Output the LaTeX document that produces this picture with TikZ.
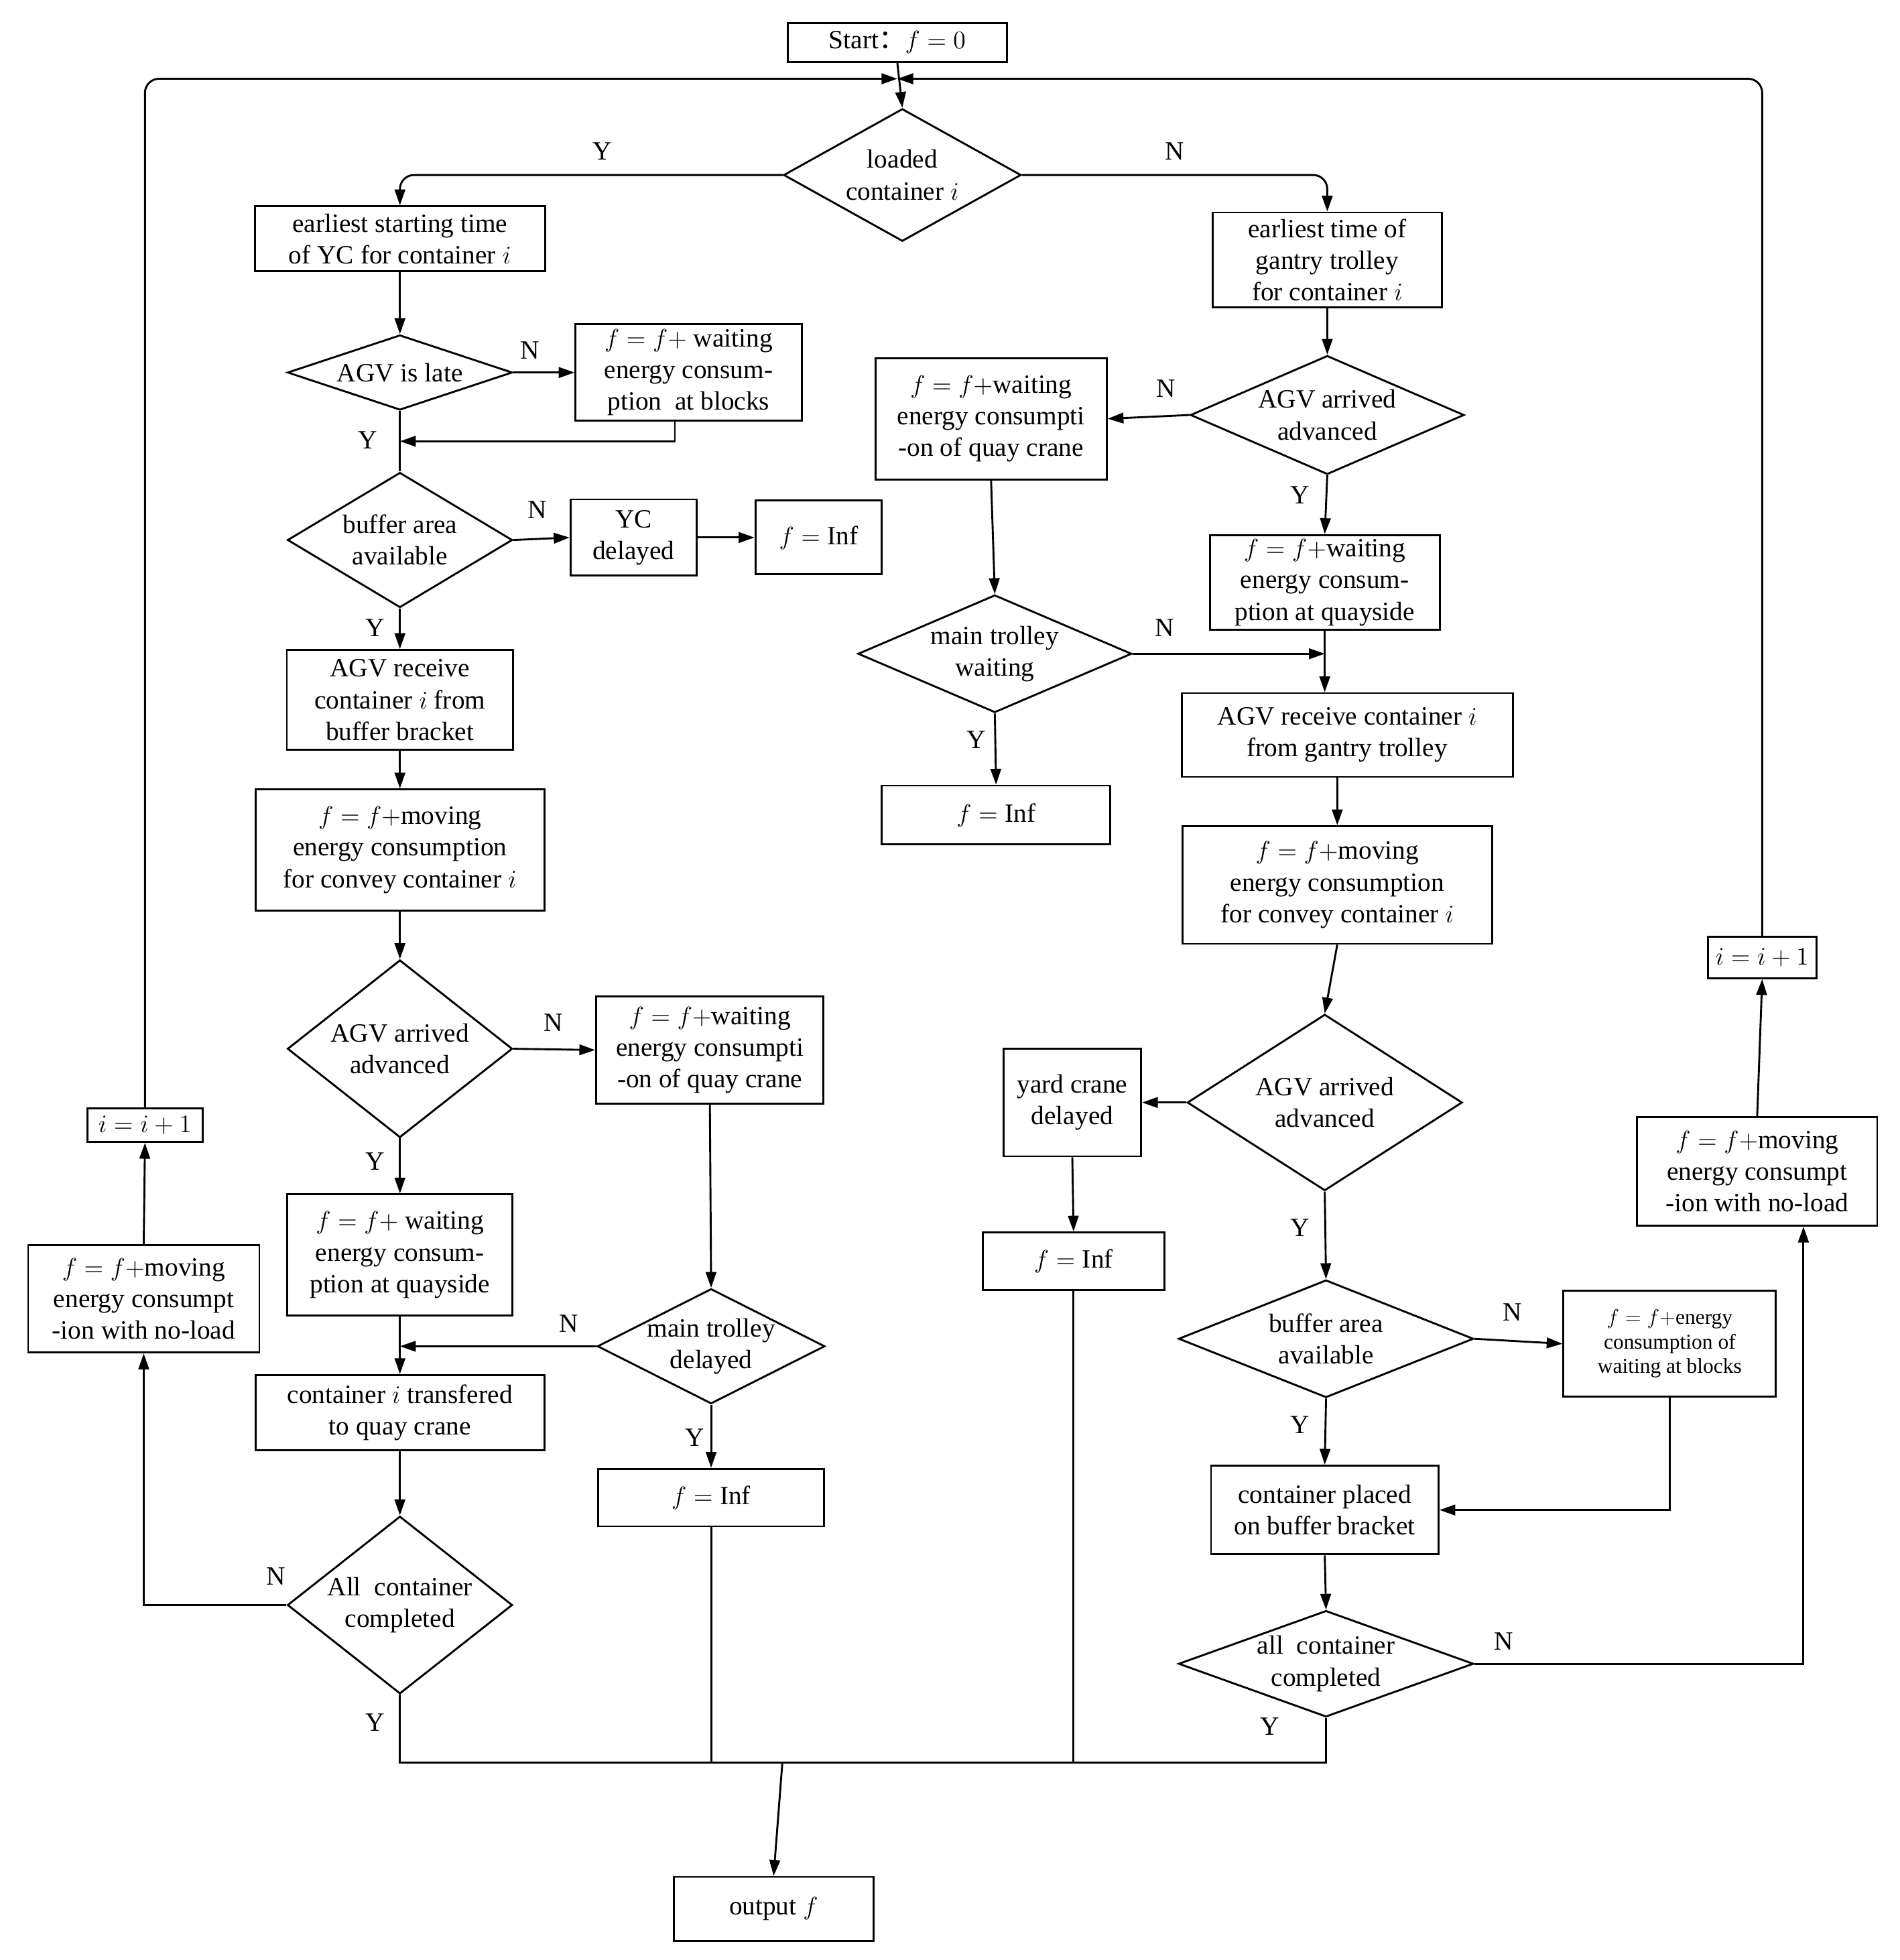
\documentclass[tikz,border=0pt]{standalone}
\usepackage{fontspec}
\setmainfont{Liberation Serif}
\newfontfamily\cjk{Noto Sans CJK SC}
\usetikzlibrary{shapes.geometric,calc,arrows.meta}
\begin{document}
\begin{tikzpicture}[x=0.025cm,y=-0.025cm,
  every node/.style={font=\fontsize{15}{18}\selectfont},
  box/.style={draw,line width=1.1pt,inner sep=2pt,align=center},
  dia/.style={draw,diamond,line width=1.1pt,inner sep=0pt},
  lab/.style={font=\fontsize{15}{18}\selectfont},
  arr/.style={line width=1.1pt,-{Triangle[length=9pt,width=6pt]}},
  ln/.style={line width=1.1pt}]
\newcommand\bx[6]{\node[box,minimum width=#4*0.025cm,minimum height=#5*0.025cm] (#1) at (#2,#3) {#6};}
\newcommand\dm[6]{\node[dia,minimum width=#4*0.025cm,minimum height=#5*0.025cm] (#1) at (#2,#3) {};\node[align=center] at (#2,#3) {#6};}
\useasboundingbox (0,0) rectangle (1520,1568);
% left column
\bx{start}{718}{34}{175}{31}{Start{\cjk ：}$f=0$}
\coordinate (merge) at (718,63);
\dm{d1}{722}{140}{190}{106}{loaded\\container $i$}
\bx{b1}{320}{191}{232}{52}{earliest starting time\\of YC for container $i$}
\dm{d2}{320}{298}{180}{60}{AGV is late}
\bx{b2}{551}{298}{181}{77}{$f=f+$ waiting\\energy consum-\\ption \ at blocks}
\dm{d3}{320}{432}{180}{108}{buffer area\\available}
\bx{b3}{507}{430}{101}{61}{YC\\delayed}
\bx{b4}{655}{430}{101}{59}{$f=\mathrm{Inf}$}
\bx{b5}{320}{560}{181}{80}{AGV receive\\container $i$ from\\buffer bracket}
\bx{b6}{320}{680}{231}{97}{$f=f+$moving\\energy consumption\\for convey container $i$}
\dm{d4}{320}{839}{180}{142}{AGV arrived\\advanced}
\bx{b7}{568}{840}{182}{86}{$f=f+$waiting\\energy consumpti\\-on of quay crane}
\bx{b8}{320}{1004}{180}{97}{$f=f+$ waiting\\energy consum-\\ption at quayside}
\dm{d5}{569}{1077}{182}{92}{main trolley\\delayed}
\bx{b9}{320}{1130}{231}{60}{container $i$ transfered\\to quay crane}
\bx{b10}{569}{1198}{181}{46}{$f=\mathrm{Inf}$}
\dm{d6}{320}{1284}{180}{142}{All \ container\\completed}
\bx{b11}{115}{1039}{185}{86}{$f=f+$moving\\energy consumpt\\-ion with no-load}
\bx{b12}{116}{900}{92}{27}{$i=i+1$}
\bx{out}{619}{1527}{160}{51}{output $f$}
% right column
\bx{b13}{1062}{208}{183}{76}{earliest time of\\gantry trolley\\for container $i$}
\dm{d7}{1062}{332}{219}{95}{AGV arrived\\advanced}
\bx{b14}{793}{335}{185}{97}{$f=f+$waiting\\energy consumpti\\-on of quay crane}
\bx{b15}{1060}{466}{184}{76}{$f=f+$waiting\\energy consum-\\ption at quayside}
\dm{d8}{796}{523}{219}{94}{main trolley\\waiting}
\bx{b16}{1078}{588}{265}{67}{AGV receive container $i$\\from gantry trolley}
\bx{b17}{797}{652}{183}{47}{$f=\mathrm{Inf}$}
\bx{b18}{1070}{708}{248}{94}{$f=f+$moving\\energy consumption\\for convey container $i$}
\dm{d9}{1060}{882}{220}{141}{AGV arrived\\advanced}
\bx{b19}{858}{882}{110}{86}{yard crane\\delayed}
\bx{b20}{859}{1009}{145}{46}{$f=\mathrm{Inf}$}
\dm{d10}{1061}{1071}{236}{94}{buffer area\\available}
\node[box,minimum width=170*0.025cm,minimum height=85*0.025cm,font=\fontsize{12}{14}\selectfont] (b21) at (1336,1075) {$f=f+$energy\\consumption of\\waiting at blocks};
\bx{b22}{1060}{1208}{182}{71}{container placed\\on buffer bracket}
\dm{d11}{1061}{1331}{236}{85}{all \ container\\completed}
\bx{b23}{1406}{937}{192}{87}{$f=f+$moving\\energy consumpt\\-ion with no-load}
\bx{b24}{1410}{766}{87}{33}{$i=i+1$}
\coordinate (bot) at (626,1410);
% edges
\draw[arr] (start.south) -- (d1.north);
\draw[arr,rounded corners=8pt] (b12.north) |- (merge);
\draw[arr,rounded corners=8pt] (b24.north) |- (merge);
\draw[arr,rounded corners=8pt] (d1.west) -| (b1.north);
\draw[arr,rounded corners=8pt] (d1.east) -| (b13.north);
\draw[arr] (b1.south) -- (d2.north);
\draw[arr] (d2.east) -- (b2.west);
\draw[ln] (d2.south) -- (d3.north);
\draw[arr] ($(b2.south)+(-11,0)$) |- ($(d2.south)!0.5!(d3.north)$);
\draw[arr] (d3.east) -- (b3.west);
\draw[arr] (b3.east) -- (b4.west);
\draw[arr] (d3.south) -- (b5.north);
\draw[arr] (b5.south) -- (b6.north);
\draw[arr] (b6.south) -- (d4.north);
\draw[arr] (d4.east) -- (b7.west);
\draw[arr] (d4.south) -- (b8.north);
\draw[arr] (b7.south) -- (d5.north);
\draw[arr] (d5.west) -- (b9.north |- d5.west);
\draw[arr] (b8.south) -- (b9.north);
\draw[arr] (d5.south) -- (b10.north);
\draw[arr] (b9.south) -- (d6.north);
\draw[arr] (d6.west) -| (b11.south);
\draw[arr] (b11.north) -- (b12.south);
\draw[ln] (d6.south) -- (d6.south |- bot) -- (d11.south |- bot) -- (d11.south);
\draw[ln] (b10.south) -- (b10.south |- bot);
\draw[ln] ($(b4.south)+(23,0)$) -- ($(b4.south)+(23,0)$ |- bot);
\draw[ln] ($(b17.south)+(-25,0)$) -- ($(b17.south)+(-25,0)$ |- bot);
\draw[ln] (b20.south) -- (b20.south |- bot);
\draw[arr] (bot) -- (out.north);
\draw[arr] (b13.south) -- (d7.north);
\draw[arr] (d7.west) -- (b14.east);
\draw[arr] (d7.south) -- (b15.north);
\draw[arr] (b14.south) -- (d8.north);
\draw[arr] (d8.east) -- (b15.south |- d8.east);
\draw[arr] (b15.south) -- (b15.south |- b16.north);
\draw[arr] (d8.south) -- (b17.north);
\draw[arr] (b16.south -| b18.north) -- (b18.north);
\draw[arr] (b18.south) -- (d9.north);
\draw[arr] (d9.west) -- (b19.east);
\draw[arr] (b19.south) -- (b20.north);
\draw[arr] (d9.south) -- (d10.north);
\draw[arr] (d10.east) -- (b21.west);
\draw[arr] (d10.south) -- (b22.north);
\draw[arr] (b21.south) |- (b22.east);
\draw[arr] (b22.south) -- (d11.north);
\draw[arr] (d11.east) -| ($(b23.south)+(37,0)$);
\draw[arr] (b23.north) -- (b24.south);
% labels
\node[lab] at (482,121) {Y}; \node[lab] at (940,121) {N};
\node[lab] at (424,280) {N}; \node[lab] at (294,352) {Y};
\node[lab] at (430,408) {N}; \node[lab] at (300,502) {Y};
\node[lab] at (443,818) {N}; \node[lab] at (300,929) {Y};
\node[lab] at (455,1059) {N}; \node[lab] at (556,1150) {Y};
\node[lab] at (221,1261) {N}; \node[lab] at (300,1378) {Y};
\node[lab] at (933,311) {N}; \node[lab] at (1040,396) {Y};
\node[lab] at (932,502) {N}; \node[lab] at (781,592) {Y};
\node[lab] at (1040,982) {Y}; \node[lab] at (1210,1050) {N};
\node[lab] at (1040,1140) {Y}; \node[lab] at (1203,1313) {N};
\node[lab] at (1016,1381) {Y};
\end{tikzpicture}
\end{document}
